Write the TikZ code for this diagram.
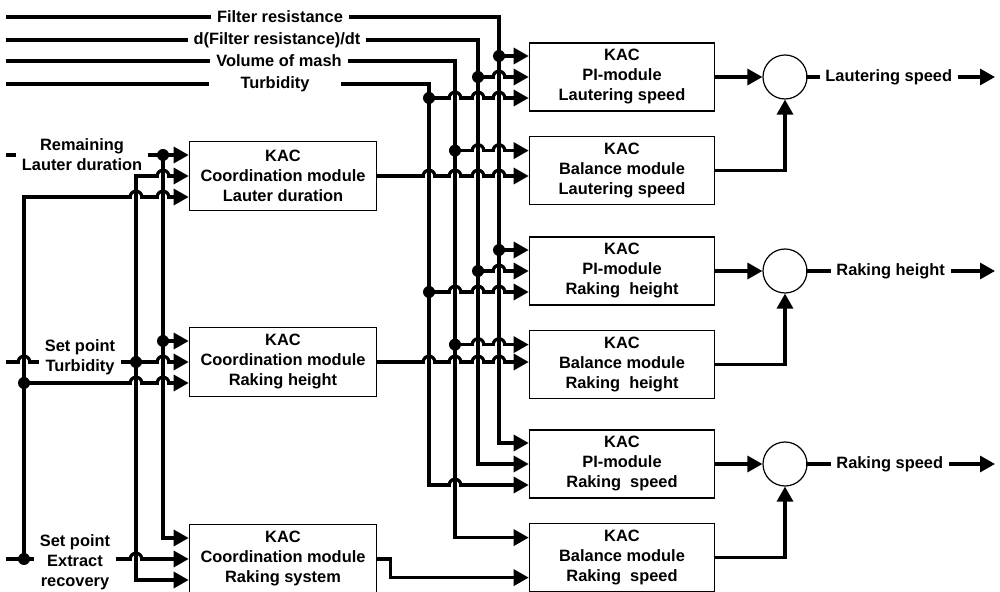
\documentclass[tikz,border=0pt]{standalone}
\usepackage{fontspec}
\setmainfont{Liberation Sans}
\usetikzlibrary{arrows.meta,positioning,calc}
\newcommand{\kacfont}{\bfseries\fontsize{8.2}{10}\selectfont}
\tikzset{
  wire/.style={line width=1.6pt, line cap=rect},
  sig/.style={wire, -{Triangle[length=7.5pt,width=8pt]}},
  kac/.style={draw, line width=0.8pt, fill=white, align=center,
              minimum width=92.5pt, minimum height=34pt, inner sep=2pt,
              font=\kacfont},
  coordbox/.style={kac, minimum width=93.5pt, minimum height=34.5pt},
  sum/.style={draw, circle, line width=0.6pt, minimum size=22pt, inner sep=0pt},
  tag/.style={align=center, inner xsep=3.5pt, inner ysep=1pt, font=\kacfont},
  hop/.pic={
    \fill[white] (-2.1pt,-1.3pt) rectangle (2.1pt,1.3pt);
    \draw[wire, line cap=butt] (0pt,-1.8pt) -- (0pt,1.8pt);
    \draw[wire, line cap=butt] (-2.9pt,0pt) arc[start angle=180, end angle=0, radius=2.9pt];
  }
}

\begin{document}
\begin{tikzpicture}[x=0.5pt, y=-0.5pt]
  \useasboundingbox (0,0) rectangle (1000,592);

  \node[coordbox] (coordLD) at (283,176) {KAC\\Coordination module\\Lauter duration};
  \node[coordbox] (coordRH) at (283,362) {KAC\\Coordination module\\Raking height};
  \node[coordbox] (coordRS) at (283,559) {KAC\\Coordination module\\Raking system};
  \node[kac] (piLS) at (622,77) {KAC\\PI-module\\Lautering speed};
  \node[kac, below=12pt of piLS] (balLS) {KAC\\Balance module\\Lautering speed};
  \node[kac] (piRH) at (622,271) {KAC\\PI-module\\Raking\ \ height};
  \node[kac, below=12pt of piRH] (balRH) {KAC\\Balance module\\Raking\ \ height};
  \node[kac] (piRS) at (622,464) {KAC\\PI-module\\Raking\ \ speed};
  \node[kac, below=12pt of piRS] (balRS) {KAC\\Balance module\\Raking\ \ speed};

  \node[sum] (sumLS) at (785,77) {};
  \node[sum] (sumRH) at (785,271) {};
  \node[sum] (sumRS) at (785,464) {};

  \node[tag] (frLab) at (280,17) {Filter resistance};
  \node[tag] (dfrLab) at (277,40) {d(Filter resistance)/dt};
  \node[tag] (vmLab) at (279,61) {Volume of mash};
  \node[tag, minimum width=67.5pt] (tbLab) at (275,84) {Turbidity};
  \node[tag] (rld) at (82,155) {Remaining\\Lauter duration};
  \node[tag] (spt) at (80,357) {Set point\\Turbidity};
  \node[tag] (spe) at (75,562) {Set point\\Extract\\recovery};
  \node[tag, anchor=west] (outLS) at (818,77) {Lautering speed};
  \node[tag, anchor=west] (outRH) at (829,271) {Raking height};
  \node[tag, anchor=west] (outRS) at (829,464) {Raking speed};

  \foreach \b in {coordLD,coordRH,coordRS,piLS,piRH,piRS}{
    \coordinate (\b-1) at ($(\b.west)+(0,-21)$);
    \coordinate (\b-2) at (\b.west);
    \coordinate (\b-3) at ($(\b.west)+(0,21)$);
  }
  \coordinate (balLS-1) at ($(balLS.west)+(0,-20)$);
  \coordinate (balRH-1) at ($(balRH.west)+(0,-20)$);
  \coordinate (balRS-1) at ($(balRS.west)+(0,-20)$);
  \coordinate (balRS-2) at ($(balRS.west)+(0,20)$);

  \coordinate (frIn) at (8,17);
  \coordinate (dfrIn) at (8,40);
  \coordinate (vmIn) at (8,61);
  \coordinate (tbIn) at (8,84);
  \coordinate (rldIn) at (8,155);
  \coordinate (sptIn) at (8,362);
  \coordinate (speIn) at (8,559);
  \coordinate (frTop) at (499,17);
  \coordinate (dfrTop) at (478,40);
  \coordinate (vmTop) at (455,61);
  \coordinate (tbTop) at (429,84);
  \coordinate (rldBus) at (163,0);
  \coordinate (sptBus) at (136,0);
  \coordinate (speBus) at (24,0);
  \coordinate (endLS) at (995,77);
  \coordinate (endRH) at (995,271);
  \coordinate (endRS) at (995,464);

  \draw[wire] (frIn) -- (frLab.west);
  \draw[wire] (frLab.east) -- (frTop);
  \draw[sig] (frTop) |- (piRS-1);
  \draw[sig] (piLS-1 -| frTop) -- (piLS-1);
  \draw[sig] (piRH-1 -| frTop) -- (piRH-1);

  \draw[wire] (dfrIn) -- (dfrLab.west);
  \draw[wire] (dfrLab.east) -- (dfrTop);
  \draw[sig] (dfrTop) |- (piRS-2);
  \draw[sig] (piLS-2 -| dfrTop) -- (piLS-2);
  \draw[sig] (piRH-2 -| dfrTop) -- (piRH-2);

  \draw[wire] (vmIn) -- (vmLab.west);
  \draw[wire] (vmLab.east) -- (vmTop);
  \draw[sig] (vmTop) |- (balRS-1);
  \draw[sig] (balLS-1 -| vmTop) -- (balLS-1);
  \draw[sig] (balRH-1 -| vmTop) -- (balRH-1);

  \draw[wire] (tbIn) -- (tbLab.west);
  \draw[wire] (tbLab.east) -- (tbTop);
  \draw[sig] (tbTop) |- (piRS-3);
  \draw[sig] (piLS-3 -| tbTop) -- (piLS-3);
  \draw[sig] (piRH-3 -| tbTop) -- (piRH-3);

  \draw[wire] (rldIn) -- (rld.west);
  \draw[sig] (rld.east |- coordLD-1) -- (coordLD-1);
  \draw[sig] (coordLD-1 -| rldBus) |- (coordRS-1);
  \draw[sig] (coordRH-1 -| rldBus) -- (coordRH-1);

  \draw[wire] (sptIn) -- (sptIn -| spt.west);
  \draw[sig] (spt.east |- coordRH-2) -- (coordRH-2);
  \draw[sig] (coordRS-3 -| sptBus) |- (coordLD-2);
  \draw[sig] (coordRS-3 -| sptBus) -- (coordRS-3);

  \draw[wire] (speIn) -- (speIn -| spe.west);
  \draw[sig] (spe.east |- coordRS-2) -- (coordRS-2);
  \draw[sig] (speIn -| speBus) |- (coordLD-3);
  \draw[sig] (coordRH-3 -| speBus) -- (coordRH-3);

  \draw[sig] (coordLD.east) -- (coordLD.east -| balLS.west);
  \draw[sig] (coordRH.east) -- (coordRH.east -| balRH.west);
  \draw[sig] (coordRS.east) -- ++(13,0) |- (balRS-2);

  \draw[sig] (piLS.east) -- (sumLS.west);
  \draw[sig] (balLS.east) -| (sumLS.south);
  \draw[wire] (sumLS.east) -- (outLS.west);
  \draw[sig] (outLS.east) -- (endLS);
  \draw[sig] (piRH.east) -- (sumRH.west);
  \draw[sig] (balRH.east) -| (sumRH.south);
  \draw[wire] (sumRH.east) -- (outRH.west);
  \draw[sig] (outRH.east) -- (endRH);
  \draw[sig] (piRS.east) -- (sumRS.west);
  \draw[sig] (balRS.east) -| (sumRS.south);
  \draw[wire] (sumRS.east) -- (outRS.west);
  \draw[sig] (outRS.east) -- (endRS);

  \foreach \p in {coordLD-2 -| rldBus, coordLD-3 -| sptBus, coordLD-3 -| rldBus,
                  coordRH-2 -| rldBus, coordRH-3 -| sptBus, coordRH-3 -| rldBus,
                  coordRS-2 -| sptBus, sptIn -| speBus,
                  piLS-2 -| frTop, piLS-3 -| vmTop, piLS-3 -| dfrTop, piLS-3 -| frTop,
                  balLS-1 -| dfrTop, balLS-1 -| frTop,
                  piRH-2 -| frTop, piRH-3 -| vmTop, piRH-3 -| dfrTop, piRH-3 -| frTop,
                  balRH-1 -| dfrTop, balRH-1 -| frTop, piRS-3 -| vmTop}
    \pic at (\p) {hop};
  \foreach \b in {coordLD,coordRH}
    \foreach \x in {tbTop,vmTop,dfrTop,frTop}
      \pic at (\b.east -| \x) {hop};

  \foreach \p in {coordLD-1 -| rldBus, coordRH-1 -| rldBus, coordRH-2 -| sptBus,
                  coordRH-3 -| speBus, speIn -| speBus,
                  piLS-1 -| frTop, piRH-1 -| frTop, piLS-2 -| dfrTop, piRH-2 -| dfrTop,
                  balLS-1 -| vmTop, balRH-1 -| vmTop, piLS-3 -| tbTop, piRH-3 -| tbTop}
    \fill (\p) circle[radius=3pt];
\end{tikzpicture}
\end{document}
